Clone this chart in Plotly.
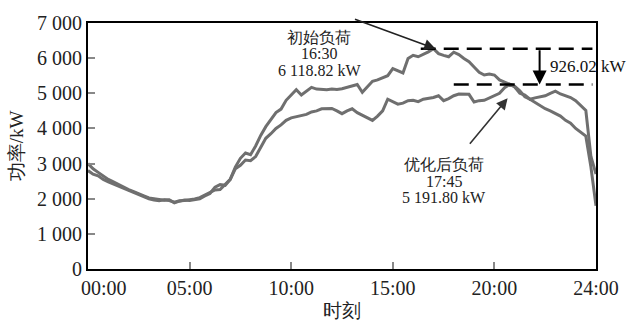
import plotly.graph_objects as go

# sample index (the chart's x axis runs over 100 steps, labelled as times)
idx = list(range(101))
tick_vals = [0, 20, 40, 60, 80, 100]
tick_text = ["00:00", "05:00", "10:00", "15:00", "20:00", "24:00"]

initial_load = [3000, 2850, 2750, 2650, 2550, 2480, 2400, 2330, 2260, 2200,
                2150, 2080, 2020, 2000, 1980, 1960, 1970, 1880, 1930, 1960,
                1950, 1980, 2000, 2080, 2150, 2330, 2400, 2380, 2550, 2900,
                3150, 3300, 3250, 3500, 3800, 4050, 4250, 4450, 4550, 4800,
                4950, 5100, 4950, 5050, 5170, 5120, 5100, 5100, 5120, 5110,
                5130, 5170, 5200, 5250, 5030, 5200, 5340, 5380, 5450, 5500,
                5700, 5650, 5580, 5990, 6080, 6040, 6100, 6180, 6270, 6130,
                6080, 6040, 6170, 6100, 5990, 5900, 5750, 5600, 5520, 5550,
                5520, 5380, 5320, 5260, 5200, 5070, 4900, 4830, 4740, 4650,
                4560, 4500, 4420, 4350, 4230, 4150, 4000, 3900, 3780, 2900,
                1800]

optimized_load = [2800, 2700, 2650, 2550, 2480, 2420, 2350, 2280, 2220, 2160,
                  2100, 2040, 2000, 1960, 1940, 1970, 1950, 1900, 1940, 1950,
                  1960, 1990, 2030, 2100, 2180, 2250, 2260, 2400, 2550, 2850,
                  2950, 3100, 3080, 3200, 3450, 3720, 3850, 4000, 4100, 4230,
                  4300, 4330, 4350, 4400, 4470, 4500, 4560, 4560, 4570, 4500,
                  4420, 4500, 4560, 4450, 4370, 4300, 4230, 4350, 4500, 4830,
                  4750, 4690, 4720, 4790, 4800, 4760, 4830, 4850, 4880, 4930,
                  4790, 4850, 4930, 4980, 4970, 4970, 4750, 4790, 4800, 4860,
                  4930, 5000, 5160, 5250, 5180, 5000, 4950, 4830, 4870, 4900,
                  4930, 5000, 5060, 4980, 4930, 4880, 4790, 4650, 4510, 3200,
                  2700]

label_initial = ["初始负荷", "16:30", "6 118.82 kW"]
label_optimized = ["优化后负荷", "17:45", "5 191.80 kW"]
label_diff = "926.02 kW"

peak_init = max(initial_load)
peak_opt = max(optimized_load)

SERIF = "Liberation Serif"
LINE_COLOR = "#6f6f6f"

fig = go.Figure()
fig.add_trace(go.Scatter(x=idx, y=initial_load, mode="lines", name="初始负荷",
                         line=dict(color=LINE_COLOR, width=3)))
fig.add_trace(go.Scatter(x=idx, y=optimized_load, mode="lines", name="优化后负荷",
                         line=dict(color=LINE_COLOR, width=3)))

# dashed peak lines
fig.add_shape(type="line", x0=65.5, x1=99.3, y0=peak_init, y1=peak_init,
              line=dict(color="black", width=2.5, dash="15px,8px"))
fig.add_shape(type="line", x0=72, x1=99.3, y0=peak_opt, y1=peak_opt,
              line=dict(color="black", width=2.5, dash="15px,8px"))

annotations = []
# first tick label sits a little right of the axis origin in the reference
annotations.append(dict(x=3.2, y=0, xref="x", yref="paper", text=tick_text[0],
                        showarrow=False, yanchor="top", yshift=-6,
                        font=dict(family=SERIF, size=20, color="#222")))
# vertical arrow between the peaks
annotations.append(dict(x=88.9, y=peak_opt, ax=88.9, ay=peak_init, axref="x", ayref="y",
                        xref="x", yref="y", showarrow=True, arrowhead=2, arrowsize=1.4,
                        arrowwidth=2, arrowcolor="black", text=""))
annotations.append(dict(x=90.6, y=(peak_init + peak_opt) / 2, xref="x", yref="y",
                        text=label_diff, showarrow=False, xanchor="left",
                        font=dict(family=SERIF, size=17, color="#111")))
# pointer arrows
annotations.append(dict(x=68.4, y=peak_init, ax=-82, ay=-30, xref="x", yref="y",
                        showarrow=True, arrowhead=2, arrowsize=1.4, arrowwidth=1.6,
                        arrowcolor="#222", text=""))
annotations.append(dict(x=82.6, y=4860, ax=-39, ay=47, xref="x", yref="y",
                        showarrow=True, arrowhead=2, arrowsize=1.4, arrowwidth=1.6,
                        arrowcolor="#333", text=""))
# text blocks (one annotation per line for the tight line spacing)
for i, t in enumerate(label_initial):
    annotations.append(dict(x=45.5, y=6600 - i * 470, xref="x", yref="y", text=t,
                            showarrow=False, yanchor="middle",
                            font=dict(family=SERIF, size=16, color="#222")))
for i, t in enumerate(label_optimized):
    annotations.append(dict(x=70.0, y=2960 - i * 460, xref="x", yref="y", text=t,
                            showarrow=False, yanchor="middle",
                            font=dict(family=SERIF, size=16, color="#222")))

fig.update_layout(
    width=632, height=332,
    margin=dict(l=88, r=36, t=16, b=63),
    paper_bgcolor="white", plot_bgcolor="white",
    showlegend=False,
    separators=". ",
    font=dict(family=SERIF, size=20, color="#222"),
    annotations=annotations,
    xaxis=dict(range=[0, 100], tickvals=tick_vals, ticktext=[""] + tick_text[1:],
               showgrid=False, zeroline=False, showline=True, mirror=True,
               linecolor="black", linewidth=2, ticks="inside", ticklen=7,
               tickcolor="#888", tickwidth=1.5,
               tickfont=dict(family=SERIF, size=20, color="#222"),
               title=dict(text="时刻", standoff=6,
                          font=dict(family=SERIF, size=19, color="#222"))),
    yaxis=dict(range=[0, 7000], tickvals=list(range(0, 7001, 1000)), tickformat=",d",
               showgrid=False, zeroline=False, showline=True, mirror=True,
               linecolor="black", linewidth=2, ticks="inside", ticklen=7,
               tickcolor="#888", tickwidth=1.5,
               tickfont=dict(family=SERIF, size=20, color="#222"),
               title=dict(text="功率/kW", standoff=8,
                          font=dict(family=SERIF, size=19, color="#222"))),
)

fig.write_html("out.html")
